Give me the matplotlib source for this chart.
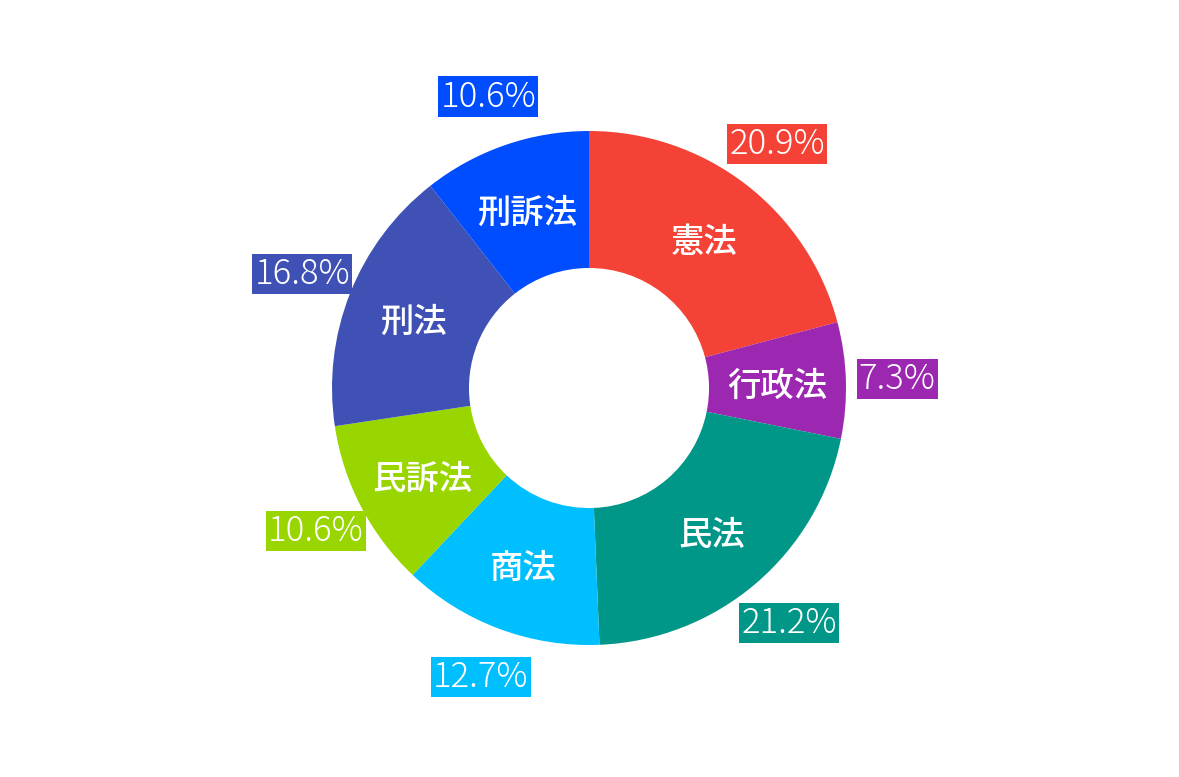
import matplotlib
matplotlib.use("Agg")
import matplotlib.pyplot as plt

plt.rcParams['font.family'] = ['Noto Sans CJK JP', 'DejaVu Sans']

labels = ['憲法', '行政法', '民法', '商法', '民訴法', '刑法', '刑訴法']
shares = [20.9, 7.3, 21.2, 12.7, 10.6, 16.8, 10.6]
colors = ['#F44336', '#9C27B0', '#009688', '#00BFFF', '#99D600', '#3F51B5', '#004DFF']

W, H = 1179, 777
cx, cy = 589, 388      # centre in pixels from top-left
R = 257                # outer radius in pixels
hole = 0.467

fig = plt.figure(figsize=(W / 100, H / 100), dpi=100)
ax = fig.add_axes([0, 0, 1, 1])

wedges, texts, autotexts = ax.pie(
    shares, labels=labels, colors=colors, startangle=90, counterclock=False,
    radius=1.0, labeldistance=(1 + hole) / 2, pctdistance=1.2,
    autopct='%1.1f%%', wedgeprops=dict(width=1 - hole, linewidth=0),
)

for t in texts:
    t.set_color('white')
    t.set_fontsize(24)
    t.set_fontweight('medium')
    t.set_ha('center')
    t.set_va('center_baseline')

for t, c in zip(autotexts, colors):
    t.set_color('white')
    t.set_fontsize(25)
    t.set_fontweight('light')
    t.set_ha('center')
    t.set_va('center')
    t.set_bbox(dict(boxstyle='square,pad=0.06', facecolor=c, edgecolor='none'))

ax.set_xlim(-cx / R, (W - cx) / R)
ax.set_ylim(-(H - cy) / R, cy / R)
ax.set_aspect('auto')
ax.axis('off')

fig.savefig('out.png', dpi=100, facecolor='white')
